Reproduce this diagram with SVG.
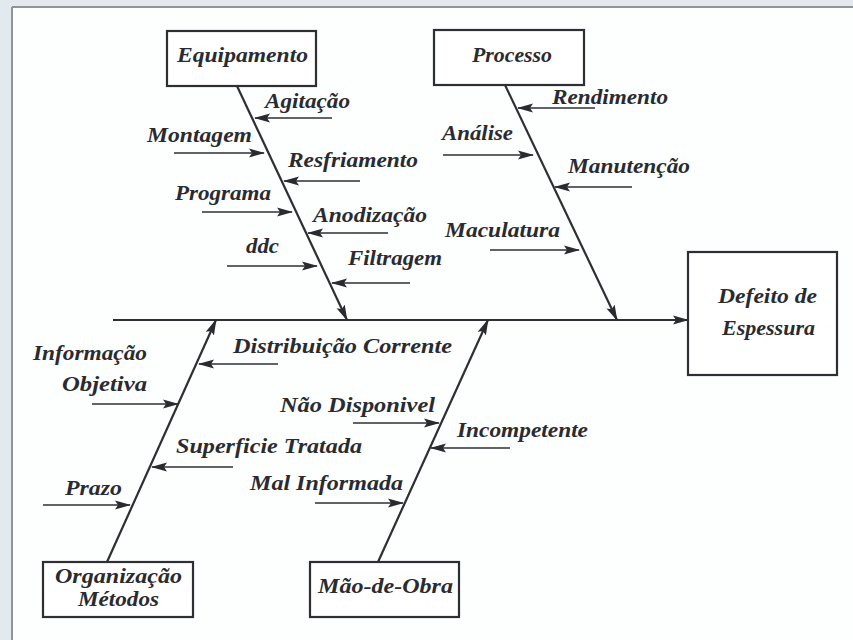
<svg xmlns="http://www.w3.org/2000/svg" width="853" height="640" viewBox="0 0 853 640">
<defs>
<style>
.bg{fill:#e2eaef}
.paper{fill:#fdfefe}
.frame{stroke:#8e9498;stroke-width:2;fill:none}
.box{fill:#ffffff;stroke:#2e2f33;stroke-width:2.2}
.spine{stroke:#2e2f33;stroke-width:2.2;fill:none}
.arr{stroke:#2e2f33;stroke-width:1.5;fill:none}
.t{font-family:"Liberation Serif","Times New Roman",serif;font-weight:bold;font-style:italic;font-size:20px;fill:#2a2b31}
</style>
<marker id="ah" markerUnits="userSpaceOnUse" markerWidth="16" markerHeight="10" refX="15" refY="5" orient="auto">
<path d="M0,0.5 L16,5 L0,9.5 L3,5 z" fill="#2a2b2f"/>
</marker>
</defs>
<rect class="bg" x="0" y="0" width="853" height="640"/>
<rect class="paper" x="12" y="8" width="841" height="632"/>
<line class="frame" x1="12" y1="7" x2="853" y2="7"/>
<line class="frame" x1="12" y1="7" x2="12" y2="640"/>

<g id="connectors">
<line class="spine" x1="113" y1="320" x2="688" y2="320" marker-end="url(#ah)"/>
<line class="spine" x1="237" y1="86" x2="347" y2="320" marker-end="url(#ah)"/>
<line class="spine" x1="505" y1="85" x2="617" y2="320" marker-end="url(#ah)"/>
<line class="spine" x1="107" y1="562" x2="216" y2="320" marker-end="url(#ah)"/>
<line class="spine" x1="378" y1="562" x2="488" y2="320" marker-end="url(#ah)"/>

<line class="arr" x1="332" y1="118" x2="255" y2="118" marker-end="url(#ah)"/>
<line class="arr" x1="174" y1="153" x2="264" y2="153" marker-end="url(#ah)"/>
<line class="arr" x1="360" y1="181" x2="284" y2="181" marker-end="url(#ah)"/>
<line class="arr" x1="202" y1="212" x2="292" y2="212" marker-end="url(#ah)"/>
<line class="arr" x1="388" y1="233" x2="308" y2="233" marker-end="url(#ah)"/>
<line class="arr" x1="227" y1="266" x2="317" y2="266" marker-end="url(#ah)"/>
<line class="arr" x1="410" y1="283" x2="332" y2="283" marker-end="url(#ah)"/>

<line class="arr" x1="595" y1="108" x2="518" y2="108" marker-end="url(#ah)"/>
<line class="arr" x1="443" y1="155" x2="533" y2="155" marker-end="url(#ah)"/>
<line class="arr" x1="632" y1="187" x2="555" y2="187" marker-end="url(#ah)"/>
<line class="arr" x1="490" y1="250" x2="579" y2="250" marker-end="url(#ah)"/>

<line class="arr" x1="278" y1="364" x2="199" y2="364" marker-end="url(#ah)"/>
<line class="arr" x1="92" y1="404" x2="178" y2="404" marker-end="url(#ah)"/>
<line class="arr" x1="233" y1="467" x2="152" y2="467" marker-end="url(#ah)"/>
<line class="arr" x1="43" y1="505" x2="130" y2="505" marker-end="url(#ah)"/>

<line class="arr" x1="353" y1="423" x2="439" y2="423" marker-end="url(#ah)"/>
<line class="arr" x1="510" y1="448" x2="431" y2="448" marker-end="url(#ah)"/>
<line class="arr" x1="315" y1="503" x2="403" y2="503" marker-end="url(#ah)"/>
</g>

<g id="labels">
<text class="t" x="265" y="108" textLength="85" lengthAdjust="spacingAndGlyphs">Agitação</text>
<text class="t" x="147" y="142" textLength="105" lengthAdjust="spacingAndGlyphs">Montagem</text>
<text class="t" x="288" y="167" textLength="130" lengthAdjust="spacingAndGlyphs">Resfriamento</text>
<text class="t" x="175" y="200" textLength="96" lengthAdjust="spacingAndGlyphs">Programa</text>
<text class="t" x="313" y="222" textLength="114" lengthAdjust="spacingAndGlyphs">Anodização</text>
<text class="t" x="246" y="253" textLength="33" lengthAdjust="spacingAndGlyphs">ddc</text>
<text class="t" x="348" y="265" textLength="94" lengthAdjust="spacingAndGlyphs">Filtragem</text>
<text class="t" x="552" y="104" textLength="116" lengthAdjust="spacingAndGlyphs">Rendimento</text>
<text class="t" x="442" y="140" textLength="71" lengthAdjust="spacingAndGlyphs">Análise</text>
<text class="t" x="568" y="173" textLength="122" lengthAdjust="spacingAndGlyphs">Manutenção</text>
<text class="t" x="445" y="237" textLength="115" lengthAdjust="spacingAndGlyphs">Maculatura</text>
<text class="t" x="233" y="353" textLength="219" lengthAdjust="spacingAndGlyphs">Distribuição Corrente</text>
<text class="t" x="33" y="360" textLength="114" lengthAdjust="spacingAndGlyphs">Informação</text>
<text class="t" x="62" y="391" textLength="85" lengthAdjust="spacingAndGlyphs">Objetiva</text>
<text class="t" x="176" y="453" textLength="186" lengthAdjust="spacingAndGlyphs">Superficie Tratada</text>
<text class="t" x="65" y="495" textLength="57" lengthAdjust="spacingAndGlyphs">Prazo</text>
<text class="t" x="280" y="412" textLength="155" lengthAdjust="spacingAndGlyphs">Não Disponivel</text>
<text class="t" x="457" y="437" textLength="131" lengthAdjust="spacingAndGlyphs">Incompetente</text>
<text class="t" x="250" y="490" textLength="153" lengthAdjust="spacingAndGlyphs">Mal Informada</text>
</g>

<g id="equipamento">
<rect class="box" x="167" y="31" width="149" height="55"/>
<text class="t" x="177" y="62" textLength="131" lengthAdjust="spacingAndGlyphs">Equipamento</text>
</g>
<g id="processo">
<rect class="box" x="434" y="30" width="150" height="55"/>
<text class="t" x="472" y="62" textLength="80" lengthAdjust="spacingAndGlyphs">Processo</text>
</g>
<g id="defeito">
<rect class="box" x="688" y="252" width="149" height="123"/>
<text class="t" x="718" y="303" textLength="99" lengthAdjust="spacingAndGlyphs">Defeito de</text>
<text class="t" x="722" y="335" textLength="93" lengthAdjust="spacingAndGlyphs">Espessura</text>
</g>
<g id="organizacao">
<rect class="box" x="43" y="562" width="150" height="55"/>
<text class="t" x="55" y="583" textLength="127" lengthAdjust="spacingAndGlyphs">Organização</text>
<text class="t" x="78" y="606" textLength="81" lengthAdjust="spacingAndGlyphs">Métodos</text>
</g>
<g id="maodeobra">
<rect class="box" x="310" y="562" width="149" height="55"/>
<text class="t" x="318" y="593" textLength="135" lengthAdjust="spacingAndGlyphs">Mão-de-Obra</text>
</g>
</svg>
